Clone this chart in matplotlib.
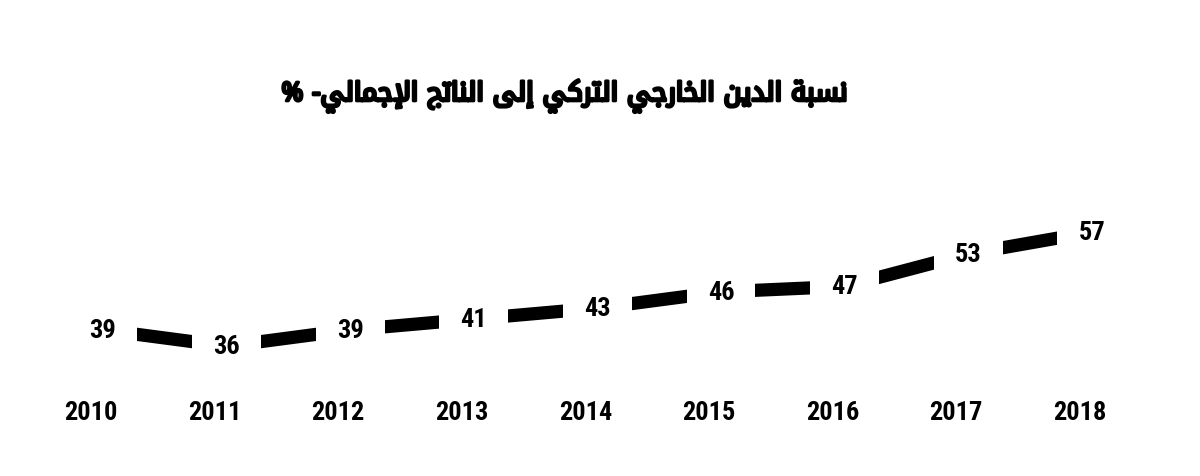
import matplotlib
matplotlib.use("Agg")
import matplotlib.pyplot as plt
import matplotlib.patheffects as pe
from matplotlib import font_manager
from matplotlib.font_manager import FontProperties
from matplotlib.ft2font import FT2Font
from matplotlib.transforms import ScaledTranslation

years = ["2010", "2011", "2012", "2013", "2014", "2015", "2016", "2017", "2018"]
debt_ratio = [39, 36, 39, 41, 43, 46, 47, 53, 57]
title = "نسبة الدين الخارجي التركي إلى الناتج الإجمالي- %"


# <---------------[ARABIC SHAPING]---------------> #
# (isolated, final, initial, medial); None -> letter does not join to the left
FORMS = {
  "ا": (0xFE8D, 0xFE8E, None, None),
  "إ": (0xFE87, 0xFE88, None, None),
  "ب": (0xFE8F, 0xFE90, 0xFE91, 0xFE92),
  "ة": (0xFE93, 0xFE94, None, None),
  "ت": (0xFE95, 0xFE96, 0xFE97, 0xFE98),
  "ج": (0xFE9D, 0xFE9E, 0xFE9F, 0xFEA0),
  "خ": (0xFEA5, 0xFEA6, 0xFEA7, 0xFEA8),
  "د": (0xFEA9, 0xFEAA, None, None),
  "ر": (0xFEAD, 0xFEAE, None, None),
  "س": (0xFEB1, 0xFEB2, 0xFEB3, 0xFEB4),
  "ك": (0xFED9, 0xFEDA, 0xFEDB, 0xFEDC),
  "ل": (0xFEDD, 0xFEDE, 0xFEDF, 0xFEE0),
  "م": (0xFEE1, 0xFEE2, 0xFEE3, 0xFEE4),
  "ن": (0xFEE5, 0xFEE6, 0xFEE7, 0xFEE8),
  "ى": (0xFEEF, 0xFEF0, None, None),
  "ي": (0xFEF1, 0xFEF2, 0xFEF3, 0xFEF4),
}
LAM_ALEF = {"ا": (0xFEFB, 0xFEFC), "إ": (0xFEF9, 0xFEFA)}


def shape(text):
  out = []
  chars = list(text)
  i = 0
  while i < len(chars):
    c = chars[i]
    if c not in FORMS:
      out.append(c)
      i += 1
      continue
    prev = chars[i - 1] if i > 0 else ""
    joins_prev = prev in FORMS and FORMS[prev][2] is not None
    nxt = chars[i + 1] if i + 1 < len(chars) else ""
    if c == "ل" and nxt in LAM_ALEF:
      out.append(chr(LAM_ALEF[nxt][1 if joins_prev else 0]))
      i += 2
      continue
    joins_next = FORMS[c][2] is not None and nxt in FORMS
    iso, fin, ini, med = FORMS[c]
    if joins_prev and joins_next:
      out.append(chr(med))
    elif joins_prev:
      out.append(chr(fin))
    elif joins_next:
      out.append(chr(ini))
    else:
      out.append(chr(iso))
    i += 1
  return "".join(out)[::-1]


# <-------------------[FONTS]-------------------> #
installed = {f.name for f in font_manager.fontManager.ttflist}


def pickFont(candidates, text, weight="bold"):
  for name in candidates:
    if name not in installed:
      continue
    try:
      path = font_manager.findfont(FontProperties(family=name, weight=weight), fallback_to_default=False)
      cmap = FT2Font(path).get_charmap()
    except Exception:
      continue
    if all(ord(ch) in cmap for ch in set(text) if ch != " "):
      return name
  return "DejaVu Sans"


title_shaped = shape(title)
num_font = pickFont(["Roboto Condensed", "Archivo Narrow", "Liberation Sans Narrow", "Barlow Condensed"], "0123456789")
title_font = pickFont(["Tajawal", "Almarai", "Noto Kufi Arabic", "Noto Sans Arabic", "Cairo", "DejaVu Sans"],
                      title_shaped, weight="black")

# <-------------------[PLOT]-------------------> #
fig = plt.figure(figsize=(12, 4.77), dpi=100)
ax = fig.add_axes([0, 0, 1, 1])
ax.set_xlim(-0.833, 8.875)
ax.set_ylim(12.1, 99.9)
ax.axis("off")

x = list(range(len(years)))
ax.plot(x, debt_ratio, color="black", linewidth=9.5, solid_capstyle="butt", zorder=1)

for xi, v in zip(x, debt_ratio):
  ax.text(
    xi, v, str(v),
    ha="center", va="center",
    fontsize=19, fontweight="bold", family=num_font,
    bbox=dict(boxstyle="square,pad=0.8", fc="white", ec="none"),
    zorder=2
  )

shift = ScaledTranslation(-12 / 100, 0, fig.dpi_scale_trans)
for xi, yr in zip(x, years):
  ax.text(
    xi, 0.134, yr,
    transform=ax.get_xaxis_transform() + shift,
    ha="center", va="center",
    fontsize=19, fontweight="bold", family=num_font
  )

t = fig.text(
  565 / 1200, 1 - 97 / 477, title_shaped,
  ha="center", va="center",
  fontsize=20, fontweight="black", family=[title_font, "DejaVu Sans"],
  path_effects=[pe.withStroke(linewidth=2.2, foreground="black")]  # heavier look
)
# scale title so it spans roughly the same width as the original (~566 px)
w = t.get_window_extent(renderer=fig.canvas.get_renderer()).width
t.set_fontsize(20 * 566 / w)

plt.savefig("out.png", dpi=100)
plt.close()
